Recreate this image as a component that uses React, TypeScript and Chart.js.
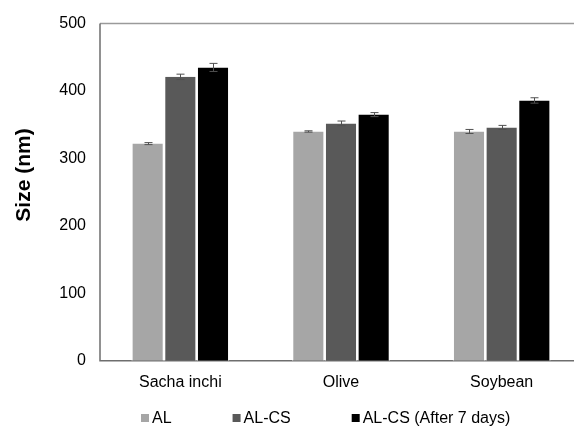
import React, { useEffect, useRef } from 'react';
import { Chart, registerables } from 'chart.js';

Chart.register(...registerables);

const categories = ['Sacha inchi', 'Olive', 'Soybean'];
const seriesNames = ['AL', 'AL-CS', 'AL-CS (After 7 days)'];
const alValues = [322, 340, 340];
const alErrors = [1.5, 1, 3];
const alcsValues = [421, 352, 346];
const alcsErrors = [4, 3.5, 3];
const after7Values = [435, 365, 386];
const after7Errors = [6, 3, 4];
const seriesColors = ['#a6a6a6', '#595959', '#000000'];
const yMin = 0;
const yMax = 500;
const yStep = 100;
const yTitle = 'Size (nm)';

const FONT = '"Liberation Sans", Arial, sans-serif';

const framePlugin = {
  id: 'frame',
  beforeDatasetsDraw(chart: any) {
    const { ctx, chartArea } = chart;
    const w = chart.width;
    ctx.save();
    ctx.lineWidth = 1.5;
    ctx.strokeStyle = '#9a9a9a';
    ctx.beginPath();
    ctx.moveTo(chartArea.left, chartArea.top);
    ctx.lineTo(w, chartArea.top);
    ctx.stroke();
    ctx.strokeStyle = '#6e6e6e';
    ctx.beginPath();
    ctx.moveTo(chartArea.left, chartArea.top);
    ctx.lineTo(chartArea.left, chartArea.bottom);
    ctx.lineTo(w, chartArea.bottom);
    ctx.stroke();
    ctx.restore();
  },
};

const errorBarPlugin = {
  id: 'errorBars',
  afterDatasetsDraw(chart: any) {
    const { ctx } = chart;
    const yScale = chart.scales.y;
    ctx.save();
    ctx.strokeStyle = '#505050';
    ctx.lineWidth = 1;
    chart.data.datasets.forEach((ds: any, i: number) => {
      const meta = chart.getDatasetMeta(i);
      meta.data.forEach((el: any, j: number) => {
        const v = ds.data[j];
        const e = ds.errors[j];
        const x = Math.round(el.x) + 0.5;
        const yt = yScale.getPixelForValue(v + e);
        const yb = yScale.getPixelForValue(v - e);
        ctx.beginPath();
        ctx.moveTo(x, yt);
        ctx.lineTo(x, yb);
        ctx.moveTo(x - 4, yt);
        ctx.lineTo(x + 4, yt);
        ctx.moveTo(x - 4, yb);
        ctx.lineTo(x + 4, yb);
        ctx.stroke();
      });
    });
    ctx.restore();
  },
};

const legendTitlePlugin = {
  id: 'legendTitle',
  afterDraw(chart: any) {
    const { ctx } = chart;
    ctx.save();
    // y-axis title
    ctx.translate(24, 175);
    ctx.rotate(-Math.PI / 2);
    ctx.font = `bold 21px ${FONT}`;
    ctx.fillStyle = '#000';
    ctx.textAlign = 'center';
    ctx.textBaseline = 'middle';
    ctx.fillText(yTitle, 0, 0);
    ctx.restore();

    // legend
    ctx.save();
    ctx.font = `16px ${FONT}`;
    ctx.textBaseline = 'middle';
    ctx.textAlign = 'left';
    let x = 141;
    const yc = 418;
    chart.data.datasets.forEach((ds: any) => {
      ctx.fillStyle = ds.backgroundColor;
      ctx.fillRect(x, yc - 4, 8, 8);
      ctx.fillStyle = '#000';
      const tx = x + 11;
      ctx.fillText(ds.label, tx, yc + 1);
      x = tx + ctx.measureText(ds.label).width + 61;
    });
    ctx.restore();
  },
};

export default function App() {
  const ref = useRef<HTMLCanvasElement | null>(null);

  useEffect(() => {
    if (!ref.current) return;
    const values = [alValues, alcsValues, after7Values];
    const errors = [alErrors, alcsErrors, after7Errors];
    const chart = new Chart(ref.current, {
      type: 'bar',
      data: {
        labels: categories,
        datasets: seriesNames.map((name, i) => ({
          label: name,
          data: values[i],
          errors: errors[i],
          backgroundColor: seriesColors[i],
          borderColor: '#ffffff',
          borderWidth: { left: 1.3, right: 1.3, top: 0, bottom: 0 },
          borderSkipped: false,
          barPercentage: 1,
          categoryPercentage: 0.61,
        })) as any,
      },
      options: {
        responsive: false,
        animation: false,
        layout: { padding: { top: 18.5, left: 0, right: 0, bottom: 0 } },
        plugins: {
          legend: { display: false },
          tooltip: { enabled: false },
        },
        scales: {
          x: {
            grid: { display: false, drawTicks: false },
            border: { display: false },
            ticks: { color: '#000', font: { family: FONT, size: 16 }, padding: 12 },
            afterFit: (s: any) => {
              s.height = 66.3;
            },
          },
          y: {
            min: yMin,
            max: yMax,
            grid: { display: false, drawTicks: false },
            border: { display: false },
            ticks: {
              stepSize: yStep,
              color: '#000',
              font: { family: FONT, size: 16 },
              padding: 14,
            },
            afterFit: (s: any) => {
              s.width = 100;
            },
          },
        },
      },
      plugins: [framePlugin, errorBarPlugin, legendTitlePlugin],
    });
    return () => chart.destroy();
  }, []);

  return (
    <div
      style={{
        position: 'absolute',
        left: 0,
        top: 0,
        width: 574,
        height: 427,
        overflow: 'hidden',
        background: '#fff',
      }}
    >
      <canvas ref={ref} width={582} height={427} style={{ display: 'block', width: 582, height: 427 }} />
    </div>
  );
}
